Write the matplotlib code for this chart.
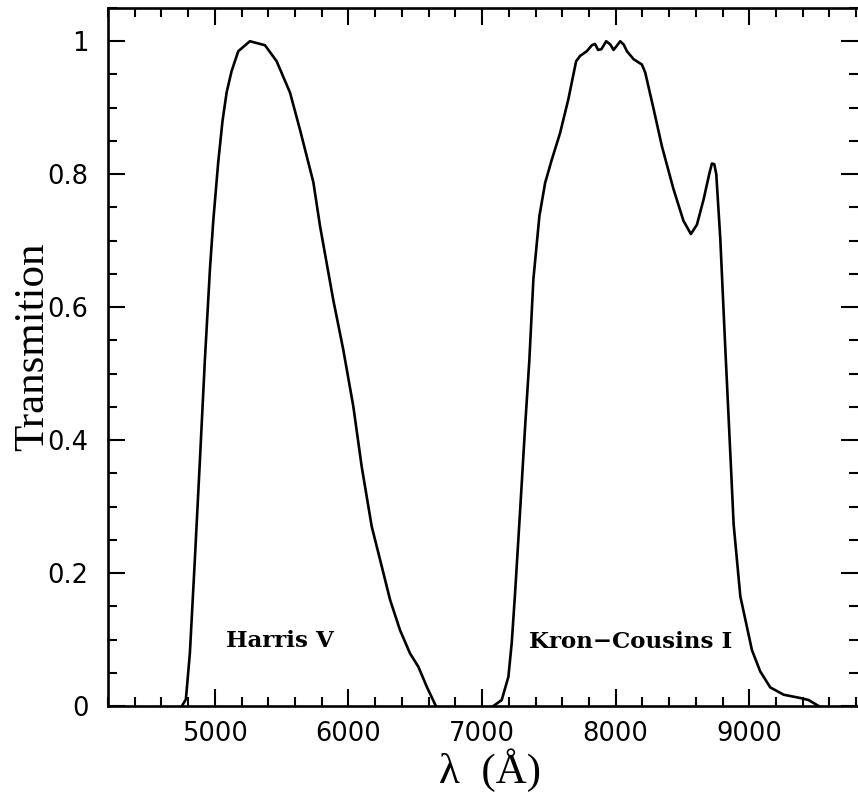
import matplotlib
matplotlib.use("Agg")
import matplotlib.pyplot as plt
from matplotlib.ticker import MultipleLocator, FixedFormatter, FixedLocator

# Harris V filter
harris_wl = [4753, 4783, 4813, 4850, 4888, 4925, 4963, 4988, 5025, 5057, 5088, 5125,
             5175, 5262, 5375, 5462, 5562, 5637, 5737, 5787, 5886, 5961, 6036, 6099,
             6174, 6249, 6311, 6386, 6461, 6523, 6586, 6654]
harris_tr = [0.0, 0.01, 0.08, 0.22, 0.37, 0.52, 0.657, 0.73, 0.818, 0.88, 0.923, 0.955,
             0.985, 1.0, 0.994, 0.970, 0.923, 0.867, 0.788, 0.722, 0.611, 0.536, 0.451, 0.360,
             0.27, 0.21, 0.16, 0.114, 0.079, 0.059, 0.029, 0.0]

# Kron-Cousins I filter
kron_wl = [7085, 7147, 7197, 7222, 7247, 7285, 7322, 7354, 7384, 7429, 7472, 7522,
           7584, 7646, 7704, 7734, 7784, 7822, 7845, 7868, 7893, 7929, 7960, 7984,
           8008, 8034, 8060, 8084, 8134, 8196, 8221, 8284, 8346, 8432, 8507, 8563,
           8608, 8658, 8700, 8720, 8738, 8753, 8783, 8820, 8858, 8883, 8933, 9020,
           9082, 9157, 9257, 9382, 9444, 9519]
kron_tr = [0.0, 0.009, 0.044, 0.095, 0.17, 0.295, 0.42, 0.521, 0.642, 0.737, 0.787, 0.822,
           0.862, 0.913, 0.970, 0.978, 0.985, 0.994, 0.996, 0.987, 0.988, 1.0, 0.995, 0.987,
           0.993, 1.0, 0.995, 0.985, 0.973, 0.965, 0.953, 0.898, 0.842, 0.778, 0.730, 0.710,
           0.724, 0.762, 0.800, 0.816, 0.815, 0.80, 0.703, 0.54, 0.38, 0.273, 0.165, 0.084,
           0.052, 0.028, 0.017, 0.012, 0.009, 0.0]

x_major = [5000, 6000, 7000, 8000, 9000]
x_labels = ["5000", "6000", "7000", "8000", "9000"]
y_major = [0, 0.2, 0.4, 0.6, 0.8, 1.0]
y_labels = ["0", "0.2", "0.4", "0.6", "0.8", "1"]

W, H = 858, 794
fig = plt.figure(figsize=(W / 100, H / 100), dpi=100)
ax = fig.add_axes([108 / W, (H - 706) / H, (858 - 108) / W, (706 - 8) / H])

lw = 1.9
ax.plot(harris_wl, harris_tr, color="black", lw=lw, solid_joinstyle="round")
ax.plot(kron_wl, kron_tr, color="black", lw=lw, solid_joinstyle="round")

ax.set_xlim(4200, 4200 + (858 - 108) / 0.1336)
ax.set_ylim(0, 1.05)

ax.xaxis.set_major_locator(FixedLocator(x_major))
ax.xaxis.set_major_formatter(FixedFormatter(x_labels))
ax.xaxis.set_minor_locator(MultipleLocator(200))
ax.yaxis.set_major_locator(FixedLocator(y_major))
ax.yaxis.set_major_formatter(FixedFormatter(y_labels))
ax.yaxis.set_minor_locator(MultipleLocator(0.05))

ax.tick_params(which="both", direction="in", top=True, right=True, width=1.5, color="black")
ax.tick_params(which="major", length=12)
ax.tick_params(which="minor", length=6.5)
ax.tick_params(axis="x", which="major", pad=11, labelsize=18.5)
ax.tick_params(axis="y", which="major", pad=14, labelsize=18.5)
for lab in ax.get_xticklabels() + ax.get_yticklabels():
    lab.set_family("DejaVu Sans")

for s in ax.spines.values():
    s.set_linewidth(1.9)
ax.spines["right"].set_visible(False)

ax.set_xlabel("λ  (Å)", family="Liberation Serif", fontsize=31, labelpad=1)
ax.xaxis.label.set_x((490 - 108) / 750)
ax.set_ylabel("Transmition", family="Liberation Serif", fontsize=31, labelpad=-3)
ax.yaxis.label.set_y(0.514)

ax.text(5490, 0.098, "Harris V", family="DejaVu Serif", weight="bold", fontsize=16.5,
        ha="center", va="center")
ax.text(8110, 0.097, "Kron−Cousins I", family="DejaVu Serif", weight="bold", fontsize=16.5,
        ha="center", va="center")

fig.savefig("out.png", dpi=100, facecolor="white")
